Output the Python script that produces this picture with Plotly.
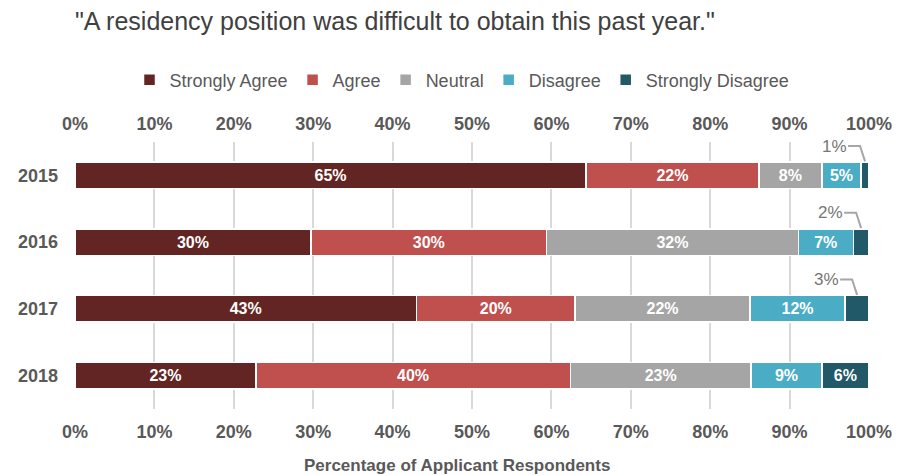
import plotly.graph_objects as go

years = ["2015", "2016", "2017", "2018"]
series_names = ["Strongly Agree", "Agree", "Neutral", "Disagree", "Strongly Disagree"]
strongly_agree = [65, 30, 43, 23]
agree = [22, 30, 20, 40]
neutral = [8, 32, 22, 23]
disagree = [5, 7, 12, 9]
strongly_disagree = [1, 2, 3, 6]
colors = ["#632523", "#C0504D", "#A5A5A5", "#4BACC6", "#215968"]
x_ticks = [0, 10, 20, 30, 40, 50, 60, 70, 80, 90, 100]
x_tick_labels = [f"{t}%" for t in x_ticks]

FONT = "Liberation Sans, Arial, sans-serif"
GREY_TXT = "#595959"
all_series = [strongly_agree, agree, neutral, disagree, strongly_disagree]
SMALL = 4  # values below this get an outside callout label

# page has an 8px body margin; lay out in page pixels and convert
OFF = 8
W, H = 914 - OFF, 475 - OFF
PL, PR, PT, PB = 75, 869, 142, 409  # plot area in page pixels

fig = go.Figure()
for name, vals, col in zip(series_names, all_series, colors):
    texts = [f"{v}%" if v >= SMALL else "" for v in vals]
    fig.add_trace(go.Bar(
        y=years, x=vals, name=name, orientation="h",
        marker=dict(color=col, line=dict(color="white", width=1.5)),
        text=texts, textposition="inside", insidetextanchor="middle",
        textfont=dict(family=FONT, size=16, color="white", weight="bold"),
        hoverinfo="skip", width=0.4,
    ))

# invisible trace for the top axis
fig.add_trace(go.Scatter(x=[0, 100], y=[years[0], years[0]], xaxis="x2", mode="none",
                         showlegend=False, hoverinfo="skip"))

# callouts for small segments
totals = [sum(s[i] for s in all_series) for i in range(len(years))]
px_per_unit = (PR - PL) / 100.0
for i, yr in enumerate(years):
    cum = 0.0
    for vals in all_series:
        v = vals[i]
        start = cum
        cum += v / totals[i] * 100
        if v < SMALL:
            center = (start + cum) / 2
            lab_x = center - 31 / px_per_unit
            line_start = center - 17 / px_per_unit
            corner = center - 5 / px_per_unit
            y_lab = i - 0.44
            y_top = i - 0.21
            fig.add_annotation(x=lab_x, y=y_lab, xref="x", yref="y", text=f"{v}%",
                               showarrow=False, xanchor="center", yanchor="middle",
                               font=dict(family=FONT, size=17, color="#767676"))
            fig.add_shape(type="path", xref="x", yref="y",
                          path=f"M {line_start} {y_lab} L {corner} {y_lab} L {center} {y_top}",
                          line=dict(color="#A6A6A6", width=2))

axis_common = dict(
    range=[0, 100], tickvals=x_ticks, ticktext=x_tick_labels,
    tickfont=dict(family=FONT, size=18, color=GREY_TXT, weight="bold"),
    showgrid=True, gridcolor="#D9D9D9", gridwidth=2, zeroline=False,
    showline=False, fixedrange=True, automargin=False,
)
plot_h = PB - PT
fig.update_layout(
    width=W, height=H,
    margin=dict(l=PL - OFF, r=W - (PR - OFF), t=PT - OFF, b=H - (PB - OFF), autoexpand=False),
    paper_bgcolor="white", plot_bgcolor="white",
    barmode="stack", barnorm="percent",
    xaxis=dict(side="bottom", ticklabelstandoff=10, **axis_common),
    xaxis2=dict(side="top", overlaying="x", matches="x", ticklabelstandoff=7, **axis_common),
    yaxis=dict(categoryorder="array", categoryarray=years, autorange=False,
               range=[len(years) - 0.5, -0.5],
               tickfont=dict(family=FONT, size=18, color=GREY_TXT, weight="bold"),
               ticklabelstandoff=16, showgrid=False, zeroline=False, automargin=False,
               fixedrange=True),
    title=dict(text="\"A residency position was difficult to obtain this past year.\"",
               font=dict(family=FONT, size=25, color="#404040"),
               xref="container", x=(75 - OFF) / W, xanchor="left",
               yref="container", y=1 - (21 - OFF) / H, yanchor="middle", automargin=False),
    legend=dict(orientation="h", x=(462 - PL) / (PR - PL), xanchor="center",
                y=(PB - 80) / plot_h, yanchor="middle",
                font=dict(family=FONT, size=18, color=GREY_TXT),
                traceorder="normal", itemwidth=30, itemclick=False),
    showlegend=True,
)
fig.add_annotation(text="Percentage of Applicant Respondents", xref="paper", yref="paper",
                   x=(457 - PL) / (PR - PL), y=(PB - 465) / plot_h, showarrow=False,
                   xanchor="center", yanchor="middle",
                   font=dict(family=FONT, size=17, color=GREY_TXT, weight="bold"))

fig.write_html("out.html")
